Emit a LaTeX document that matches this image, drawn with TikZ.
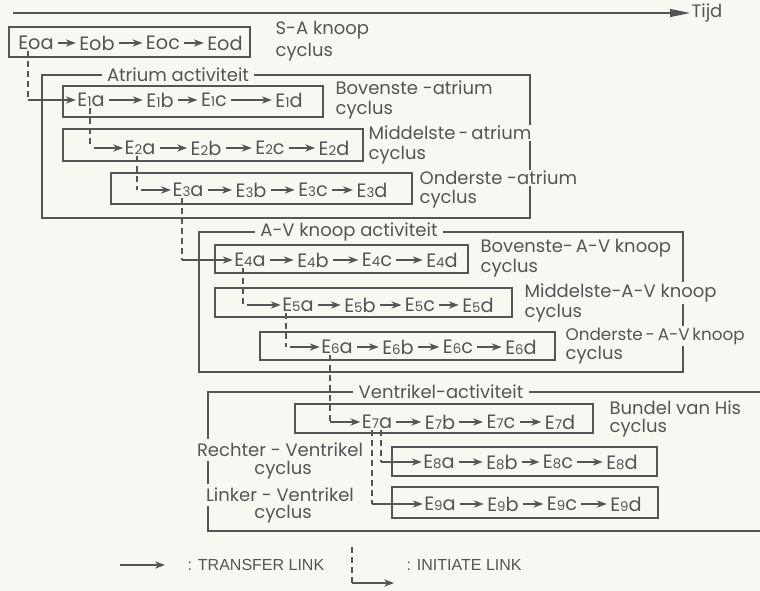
\documentclass[tikz,border=0pt]{standalone}
\usepackage{fontspec}
\setmainfont{Poppins}
\newfontfamily\legfont{Liberation Sans}
\usetikzlibrary{arrows.meta,calc}
\definecolor{bg}{RGB}{248,247,241}
\definecolor{ink}{RGB}{85,85,85}
\newcommand{\ev}[2]{E{\fontsize{10}{10}\selectfont #1}#2}
\begin{document}
\begin{tikzpicture}[x=0.75pt,y=-0.75pt,
  every node/.style={text=ink, font=\fontsize{13.5}{15}\selectfont},
  evn/.style={inner sep=1pt, font=\fontsize{14.5}{15}\selectfont},
  lab/.style={anchor=west, inner sep=1pt, fill=bg},
  labc/.style={inner xsep=1pt, inner ysep=3pt, fill=bg},
  box/.style={draw=ink, line width=0.9pt},
  tr/.style={draw=ink, line width=0.8pt, -{Stealth[length=7.5pt,width=5.5pt]}},
  trr/.style={tr, shorten <=2pt, shorten >=1.5pt},
  ini/.style={draw=ink, line width=0.8pt, dash pattern=on 4.5pt off 3pt},
  ttl/.style={fill=bg, inner xsep=4pt, inner ysep=1pt},
]
\fill[bg] (0,0) rectangle (760,591);
\useasboundingbox (0,0) rectangle (760,591);

% time axis
\coordinate (t0) at (13,13);
\node[anchor=west, inner sep=1pt] (tijd) at (690,13) {Tijd};
\draw[ink, line width=0.9pt, -{Triangle[length=15pt,width=6pt]}] (t0) -- (tijd.west);

% activity boxes
\draw[box] (42,75) rectangle (530,218);
\draw[box] (199,232) rectangle (683,372);
\draw[box] (760,392) -- (208,392) -- (208,531) -- (760,531);

% cycle boxes
\draw[box] (9,27) rectangle (250,57);
\draw[box] (63,86) rectangle (323,117);
\draw[box] (63,129) rectangle (363,161);
\draw[box] (111,173) rectangle (412,204);
\draw[box] (215,245) rectangle (468,273);
\draw[box] (215,288) rectangle (512,317);
\draw[box] (260,332) rectangle (555,360);
\draw[box] (295,404) rectangle (593,433);
\draw[box] (392,447) rectangle (657,476);
\draw[box] (392,487) rectangle (658,518);

% titles
\node[ttl] (tatr) at (178,75) {Atrium activiteit};
\node[ttl] (tav) at (349,232) {A-V knoop activiteit};
\node[ttl] (tven) at (441,392) {Ventrikel-activiteit};

% event nodes
\node[evn] (E0a) at (36,43) {Eoa};
\node[evn] (E0b) at (97,43) {Eob};
\node[evn] (E0c) at (163,43) {Eoc};
\node[evn] (E0d) at (225,43) {Eod};

\node[evn] (E1a) at (91,100) {\ev{1}{a}};
\node[evn] (E1b) at (160,100) {\ev{1}{b}};
\node[evn] (E1c) at (214,100) {\ev{1}{c}};
\node[evn] (E1d) at (289,100) {\ev{1}{d}};

\node[evn] (E2a) at (140,148) {\ev{2}{a}};
\node[evn] (E2b) at (206,148) {\ev{2}{b}};
\node[evn] (E2c) at (270,148) {\ev{2}{c}};
\node[evn] (E2d) at (334,148) {\ev{2}{d}};

\node[evn] (E3a) at (188,190) {\ev{3}{a}};
\node[evn] (E3b) at (251,190) {\ev{3}{b}};
\node[evn] (E3c) at (313,190) {\ev{3}{c}};
\node[evn] (E3d) at (372,190) {\ev{3}{d}};

\node[evn] (E4a) at (250,260) {\ev{4}{a}};
\node[evn] (E4b) at (313,260) {\ev{4}{b}};
\node[evn] (E4c) at (377,260) {\ev{4}{c}};
\node[evn] (E4d) at (442,260) {\ev{4}{d}};

\node[evn] (E5a) at (298,305) {\ev{5}{a}};
\node[evn] (E5b) at (360,305) {\ev{5}{b}};
\node[evn] (E5c) at (420,305) {\ev{5}{c}};
\node[evn] (E5d) at (478,305) {\ev{5}{d}};

\node[evn] (E6a) at (337,347) {\ev{6}{a}};
\node[evn] (E6b) at (398,347) {\ev{6}{b}};
\node[evn] (E6c) at (458,347) {\ev{6}{c}};
\node[evn] (E6d) at (521,347) {\ev{6}{d}};

\node[evn] (E7a) at (377,422) {\ev{7}{a}};
\node[evn] (E7b) at (440,422) {\ev{7}{b}};
\node[evn] (E7c) at (501,422) {\ev{7}{c}};
\node[evn] (E7d) at (560,422) {\ev{7}{d}};

\node[evn] (E8a) at (439,462) {\ev{8}{a}};
\node[evn] (E8b) at (502,462) {\ev{8}{b}};
\node[evn] (E8c) at (558,462) {\ev{8}{c}};
\node[evn] (E8d) at (622,462) {\ev{8}{d}};

\node[evn] (E9a) at (440,504) {\ev{9}{a}};
\node[evn] (E9b) at (503,504) {\ev{9}{b}};
\node[evn] (E9c) at (562,504) {\ev{9}{c}};
\node[evn] (E9d) at (626,504) {\ev{9}{d}};

% transfer links
\foreach \r in {0,...,9}{
  \draw[trr] (E\r a) -- (E\r b);
  \draw[trr] (E\r b) -- (E\r c);
  \draw[trr] (E\r c) -- (E\r d);
}

% labels
\node[lab] (l0a) at (274,30) {S-A knoop};
\node[lab] (l0b) at (274,52) {cyclus};
\node[lab] (l1a) at (334,88) {Bovenste -atrium};
\node[lab] (l1b) at (334,110) {cyclus};
\node[lab] (l2a) at (367,133) {Middelste\,-\,atrium};
\node[lab] (l2b) at (367,155) {cyclus};
\node[lab] (l3a) at (418,178) {Onderste -atrium};
\node[lab] (l3b) at (418,199) {cyclus};
\node[lab] (l4a) at (479,248) {Bovenste-\,A-V knoop};
\node[lab] (l4b) at (479,268) {cyclus};
\node[lab] (l5a) at (523,293) {Middelste-A-V knoop};
\node[lab] (l5b) at (523,313) {cyclus};
\node[lab, font=\fontsize{12.6}{15}\selectfont] (l6a) at (564,336) {Onderste\,-\,A-V\,knoop};
\node[lab] (l6b) at (564,355) {cyclus};
\node[lab] (l7a) at (608,408) {Bundel van His};
\node[lab] (l7b) at (608,428) {cyclus};
\node[labc] (l8a) at (280,450) {Rechter - Ventrikel};
\node[labc] (l8b) at (283,470) {cyclus};
\node[labc] (l9a) at (280,495) {Linker - Ventrikel};
\node[labc] (l9b) at (283,514) {cyclus};

% initiate links
\coordinate (i0) at ($(E0a.south)+(-8,0)$);
\draw[ini] (i0) -- (i0 |- E1a.west);
\draw[tr] (i0 |- E1a.west) -- (E1a.west);
\coordinate (i1) at ($(E1a.south)+(-1,0)$);
\draw[ini] (i1) -- (i1 |- E2a.west);
\draw[tr, shorten <=3pt] (i1 |- E2a.west) -- (E2a.west);
\coordinate (i2) at ($(E2a.south)+(-3,0)$);
\draw[ini] (i2) -- (i2 |- E3a.west);
\draw[tr, shorten <=3pt] (i2 |- E3a.west) -- (E3a.west);
\coordinate (i3) at ($(E3a.south)+(-6,0)$);
\draw[ini] (i3) -- (i3 |- E4a.west);
\draw[tr] (i3 |- E4a.west) -- (E4a.west);
\coordinate (i4) at ($(E4a.south)+(-7,0)$);
\draw[ini] (i4) -- (i4 |- E5a.west);
\draw[tr, shorten <=3pt] (i4 |- E5a.west) -- (E5a.west);
\coordinate (i5) at ($(E5a.south)+(-12,0)$);
\draw[ini] (i5) -- (i5 |- E6a.west);
\draw[tr, shorten <=3pt] (i5 |- E6a.west) -- (E6a.west);
\coordinate (i6) at ($(E6a.south)+(-7,0)$);
\draw[ini] (i6) -- (i6 |- E7a.west);
\draw[tr] (i6 |- E7a.west) -- (E7a.west);
\coordinate (i7) at ($(E7a.south)+(4,0)$);
\draw[ini] (i7) -- (i7 |- E8a.west);
\draw[tr] (i7 |- E8a.west) -- (E8a.west);
\coordinate (i8) at ($(E7a.south)+(-5,0)$);
\draw[ini] (i8) -- (i8 |- E9a.west);
\draw[tr] (i8 |- E9a.west) -- (E9a.west);

% legend
\node[anchor=west, inner sep=1pt, font=\legfont\fontsize{12}{14}\selectfont] (ltr) at (186,565) {: TRANSFER LINK};
\coordinate (lt0) at (120,565);
\coordinate (lt1) at (165,565);
\draw[tr] (lt0) -- (lt1);
\node[anchor=west, inner sep=1pt, font=\legfont\fontsize{12}{14}\selectfont] (lin) at (405,565) {: INITIATE LINK};
\coordinate (li0) at (352,547);
\coordinate (li1) at (352,583);
\coordinate (li2) at (394,583);
\draw[ini] (li0) -- (li1);
\draw[tr] (li1) -- (li2);
\end{tikzpicture}
\end{document}
